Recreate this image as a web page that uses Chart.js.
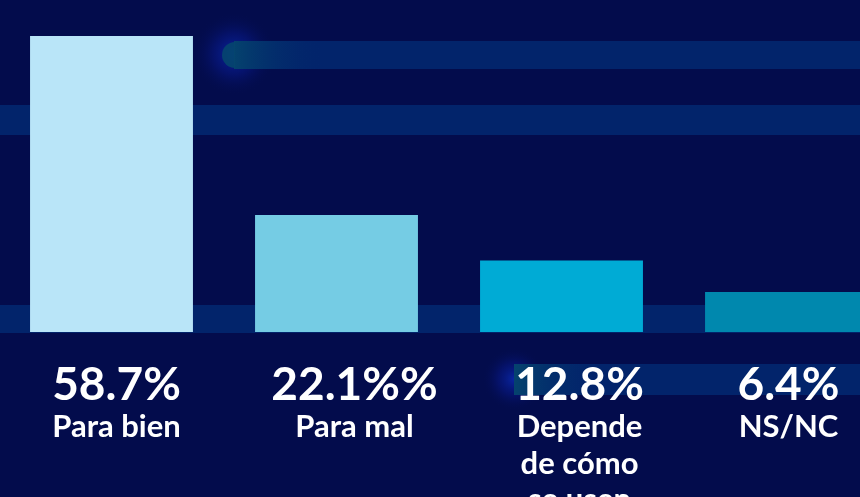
<!DOCTYPE html>
<html>
<head>
<meta charset="utf-8">
<script src="https://cdn.jsdelivr.net/npm/chart.js@4.4.1/dist/chart.umd.min.js"></script>
<style>
    html, body { margin: 0; padding: 0; background: #030c4c; overflow: hidden; }
    #wrap { position: relative; left: -1px; width: 900px; height: 497px; }
</style>
</head>
<body>
<div id="wrap"><canvas id="bar-chart" width="900" height="497"></canvas></div>
<script>
var categories = ["Para bien", "Para mal", "Depende de cómo se usen", "NS/NC"];
var shares = [58.7, 22.1, 12.8, 6.4];
var shareLabels = ["58.7%", "22.1%%", "12.8%", "6.4%"];
var barColors = ["#b9e5f8", "#75cce4", "#00abd5", "#0088ae"];

// wrap category text the way the original does
var categoryLines = [["Para bien"], ["Para mal"], ["Depende", "de cómo", "se usen"], ["NS/NC"]];
var labelShift = [5, 18, 18, 2];

var yMin = -1.8;

// decorative stripes + glows behind the bars
var backdrop = {
    id: "backdrop",
    beforeDraw: function (chart) {
        var ctx = chart.ctx;
        var w = chart.width;
        ctx.save();
        ctx.fillStyle = "#030c4c";
        ctx.fillRect(0, 0, w, chart.height);

        function glow(x, y, r) {
            var g = ctx.createRadialGradient(x, y, 0, x, y, r);
            g.addColorStop(0, "rgba(10,40,170,0.9)");
            g.addColorStop(0.5, "rgba(8,25,140,0.45)");
            g.addColorStop(1, "rgba(3,12,76,0)");
            ctx.fillStyle = g;
            ctx.fillRect(x - r, y - r, r * 2, r * 2);
        }

        function stripe(x, y, h, fade) {
            ctx.fillStyle = "#02246b";
            ctx.fillRect(x, y, w - x, h);
            if (fade) {
                var g = ctx.createLinearGradient(x, 0, x + 90, 0);
                g.addColorStop(0, "rgba(5,70,110,0.9)");
                g.addColorStop(1, "rgba(2,36,107,0)");
                ctx.fillStyle = g;
                ctx.fillRect(x, y, 90, h);
            }
        }

        glow(235, 54, 42);
        stripe(235, 41, 28, true);
        ctx.fillStyle = "rgba(5,70,110,0.9)";
        ctx.beginPath();
        ctx.arc(236, 55, 13, Math.PI / 2, Math.PI * 1.5);
        ctx.fill();

        stripe(0, 105, 30, false);
        stripe(0, 305, 28, false);

        glow(515, 379, 32);
        stripe(515, 364, 31, true);
        ctx.restore();
    }
};

// percentage + category text under each bar
var underLabels = {
    id: "underLabels",
    afterDatasetsDraw: function (chart) {
        var ctx = chart.ctx;
        var x = chart.scales.x;
        ctx.save();
        ctx.fillStyle = "#ffffff";
        ctx.textAlign = "center";
        ctx.textBaseline = "alphabetic";
        for (var i = 0; i < categories.length; i++) {
            var cx = x.getPixelForValue(i) + labelShift[i];
            ctx.font = "bold 46px Lato";
            ctx.fillText(shareLabels[i], cx, 400);
            ctx.font = "bold 31px Lato";
            for (var j = 0; j < categoryLines[i].length; j++) {
                ctx.fillText(categoryLines[i][j], cx, 437 + j * 36.5);
            }
        }
        ctx.restore();
    }
};

new Chart(document.getElementById("bar-chart"), {
    type: "bar",
    data: {
        labels: categories,
        datasets: [{
            data: shares,
            backgroundColor: barColors,
            borderWidth: 0,
            base: yMin,
            barPercentage: 0.724,
            categoryPercentage: 1
        }]
    },
    options: {
        responsive: false,
        animation: false,
        layout: { padding: { top: 0, left: 0, right: 0, bottom: 165 } },
        plugins: {
            legend: { display: false },
            tooltip: { enabled: false }
        },
        scales: {
            x: { display: false },
            y: { display: false, min: yMin, max: 66.05 }
        }
    },
    plugins: [backdrop, underLabels]
});
</script>
</body>
</html>
